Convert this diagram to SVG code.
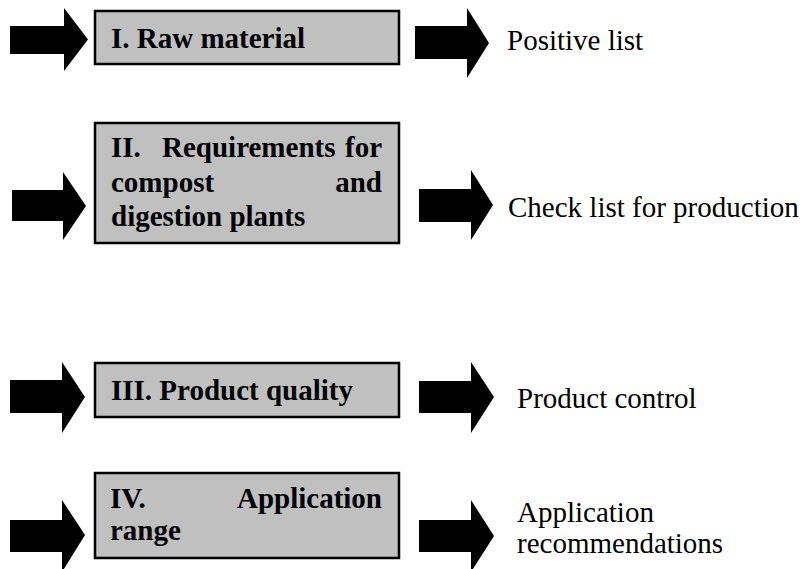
<svg xmlns="http://www.w3.org/2000/svg" width="808" height="569" viewBox="0 0 808 569">
<style>
.arrow{fill:#000;stroke:none}
.box{fill:#c0c0c0;stroke:#000;stroke-width:2.5}
.bt{font-family:"Liberation Serif","Times New Roman",serif;font-weight:bold;font-size:29px;fill:#000}
.rt{font-family:"Liberation Serif","Times New Roman",serif;font-size:29px;fill:#000}
</style>
<rect width="808" height="569" fill="#fff"/>
<g id="connectors">
<polygon class="arrow" points="10,26 64,26 64,8 88,39.5 64,71 64,54 10,54"/>
<polygon class="arrow" points="415,26 467,26 467,8 489,43 467,78 467,59 415,59"/>
<polygon class="arrow" points="12,190 63,190 63,172 86,206 63,240 63,221 12,221"/>
<polygon class="arrow" points="419,189 471,189 471,170 493,205 471,240 471,222 419,222"/>
<polygon class="arrow" points="10,380 62,380 62,362 85,397 62,433 62,413 10,413"/>
<polygon class="arrow" points="419,381 471,381 471,362 494,397 471,433 471,413 419,413"/>
<polygon class="arrow" points="10,520 62,520 62,500 85,535 62,572 62,552 10,552"/>
<polygon class="arrow" points="419,520 471,520 471,500 494,536 471,572 471,552 419,552"/>
</g>
<g id="node1">
<rect class="box" x="95" y="11" width="304" height="53"/>
<text class="bt" x="111" y="48">I. Raw material</text>
</g>
<g id="node2">
<rect class="box" x="95" y="123" width="304" height="120"/>
<text class="bt" x="111" y="157">II.</text>
<text class="bt" x="162" y="157">Requirements</text>
<text class="bt" x="382" y="157" text-anchor="end">for</text>
<text class="bt" x="111" y="192">compost</text>
<text class="bt" x="382" y="192" text-anchor="end">and</text>
<text class="bt" x="111" y="226">digestion plants</text>
</g>
<g id="node3">
<rect class="box" x="95" y="363" width="304" height="54"/>
<text class="bt" x="111" y="400">III. Product quality</text>
</g>
<g id="node4">
<rect class="box" x="95" y="473" width="304" height="85"/>
<text class="bt" x="110" y="508">IV.</text>
<text class="bt" x="382" y="508" text-anchor="end">Application</text>
<text class="bt" x="110" y="540">range</text>
</g>
<g id="out1"><text class="rt" x="507" y="50">Positive list</text></g>
<g id="out2"><text class="rt" x="508" y="217">Check list for production</text></g>
<g id="out3"><text class="rt" x="517" y="408">Product control</text></g>
<g id="out4"><text class="rt" x="517" y="522">Application</text><text class="rt" x="517" y="553">recommendations</text></g>
</svg>
